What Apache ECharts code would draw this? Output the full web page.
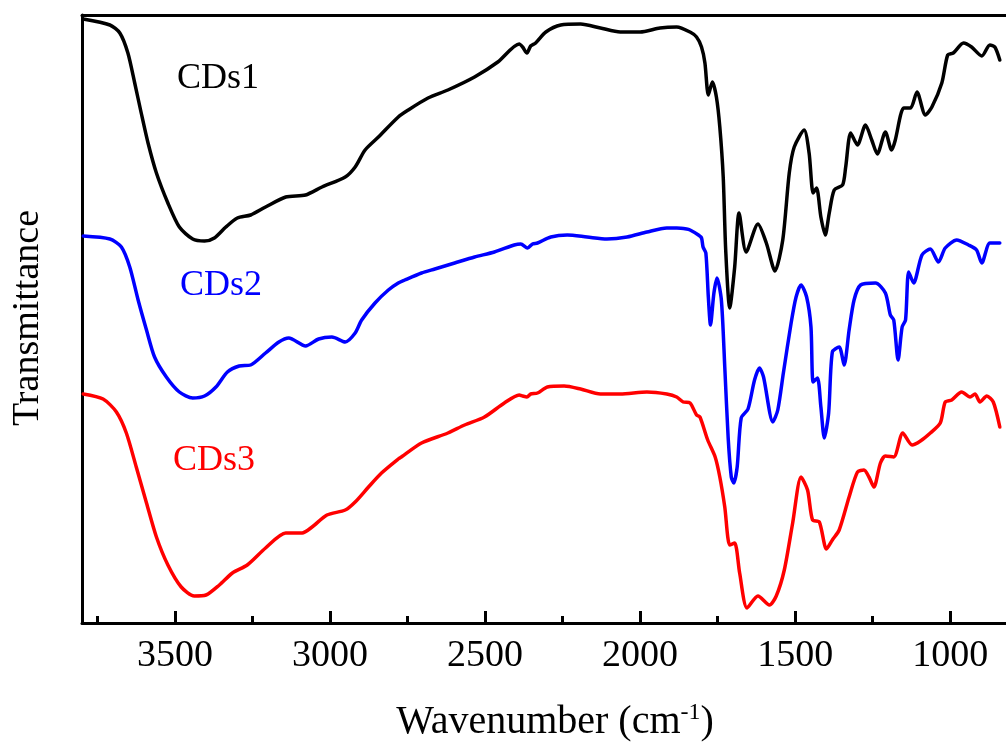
<!DOCTYPE html>
<html>
<head>
<meta charset="utf-8">
<script src="https://cdn.jsdelivr.net/npm/echarts@6/dist/echarts.min.js"></script>
<style>
html,body{margin:0;padding:0;background:#fff;}
#c{width:1006px;height:742px;}
</style>
</head>
<body>
<div id="c"></div>
<script>
// Wavenumber (cm-1) and transmittance (arbitrary units, offset curves)
const seriesNames = ['CDs1', 'CDs2', 'CDs3'];
const seriesColors = ['#000000', '#0000ff', '#ff0000'];

const cds1 = [
  [3796,60.4],[3710,59.8],[3678,59.0],[3652,57.0],[3630,54.0],[3609,51.0],[3587,48.0],[3560,45.0],
  [3523,42.0],[3486,39.6],[3443,38.4],[3405,38.2],[3373,38.5],[3336,39.6],[3299,40.5],[3256,40.8],
  [3208,41.6],[3143,42.6],[3079,42.8],[3026,43.6],[2951,44.6],[2919,45.6],[2887,47.3],[2844,48.6],
  [2780,50.6],[2748,51.3],[2684,52.5],[2620,53.3],[2534,54.6],[2459,56.1],[2390,57.9],[2379,57.6],
  [2365,57.0],[2353,57.7],[2337,58.0],[2304,59.1],[2256,59.8],[2192,59.9],[2128,59.5],[2064,59.1],
  [2000,59.1],[1936,59.5],[1882,59.6],[1839,59.1],[1818,58.6],[1802,57.6],[1791,56.0],[1780,52.8],
  [1767,54.1],[1754,52.6],[1743,49.6],[1732,44.6],[1724,37.3],[1711,31.5],[1695,35.6],[1681,41.0],
  [1658,37.1],[1620,39.9],[1593,38.0],[1565,35.2],[1540,38.3],[1519,45.0],[1503,47.6],[1471,49.3],
  [1455,47.0],[1442,43.0],[1431,43.5],[1417,40.6],[1403,38.8],[1390,41.0],[1374,43.3],[1347,43.8],
  [1337,45.6],[1321,49.0],[1299,47.8],[1273,49.8],[1253,48.3],[1235,46.9],[1209,49.1],[1189,47.3],
  [1177,48.3],[1160,50.8],[1150,51.5],[1128,51.5],[1107,53.1],[1080,50.8],[1059,51.6],[1027,54.0],
  [1008,56.8],[990,57.0],[957,58.0],[931,57.6],[898,56.7],[872,57.8],[856,57.6],[840,56.3]
];

const cds2 = [
  [3796,38.7],[3710,38.4],[3673,37.6],[3646,35.6],[3619,32.3],[3592,29.3],[3566,26.6],[3528,24.6],
  [3486,23.1],[3443,22.5],[3405,22.7],[3368,23.6],[3331,25.1],[3293,25.7],[3256,25.8],[3208,27.0],
  [3165,28.1],[3133,28.5],[3079,27.7],[3037,28.4],[2994,28.6],[2951,28.1],[2919,29.0],[2898,30.3],
  [2855,32.0],[2812,33.3],[2780,34.0],[2759,34.3],[2705,35.0],[2662,35.4],[2598,36.0],[2534,36.6],
  [2470,37.1],[2406,37.8],[2385,37.9],[2363,37.5],[2347,37.9],[2331,38.0],[2288,38.6],[2235,38.8],
  [2171,38.6],[2107,38.4],[2042,38.6],[1978,39.1],[1914,39.5],[1882,39.5],[1850,39.4],[1839,39.3],
  [1812,38.8],[1802,38.5],[1797,37.6],[1788,37.0],[1780,32.6],[1773,29.8],[1762,33.0],[1752,34.5],
  [1738,32.3],[1727,25.6],[1716,18.5],[1706,14.6],[1698,14.0],[1687,15.6],[1674,20.5],[1652,21.4],
  [1631,24.3],[1615,25.5],[1602,24.6],[1572,20.1],[1556,21.3],[1538,25.0],[1513,30.0],[1497,32.6],
  [1481,33.8],[1463,32.6],[1449,29.6],[1442,24.1],[1428,24.5],[1417,21.6],[1406,18.5],[1392,21.0],
  [1380,27.1],[1358,27.6],[1342,25.8],[1326,29.3],[1310,32.3],[1289,33.8],[1241,34.0],[1209,33.0],
  [1193,30.8],[1182,30.3],[1168,26.3],[1155,29.6],[1144,30.3],[1134,35.1],[1118,34.0],[1091,36.8],
  [1064,37.4],[1038,36.1],[1016,37.5],[979,38.3],[941,37.8],[915,37.3],[898,36.0],[872,38.0],[840,38.0]
];

const cds3 = [
  [3796,22.9],[3732,22.4],[3689,21.1],[3657,19.0],[3625,15.6],[3592,12.0],[3560,8.6],[3523,5.8],
  [3480,3.6],[3438,2.7],[3400,2.8],[3357,3.8],[3315,5.0],[3267,5.8],[3208,7.5],[3143,9.0],
  [3090,9.0],[3058,9.6],[3010,10.8],[2951,11.3],[2919,12.1],[2876,13.6],[2834,15.0],[2780,16.4],
  [2770,16.6],[2705,18.0],[2620,19.0],[2566,19.8],[2502,20.6],[2438,22.0],[2390,22.8],[2379,22.7],
  [2365,22.6],[2353,22.9],[2331,23.0],[2299,23.6],[2245,23.7],[2192,23.4],[2128,22.9],[2064,22.9],
  [1978,23.1],[1914,22.9],[1882,22.6],[1861,22.1],[1839,22.0],[1818,20.8],[1807,20.6],[1782,18.3],
  [1758,16.6],[1743,14.6],[1727,11.6],[1711,7.8],[1695,8.0],[1679,5.0],[1655,1.5],[1620,2.7],
  [1583,1.8],[1561,2.7],[1535,5.3],[1508,10.0],[1481,14.6],[1460,13.3],[1444,10.3],[1422,10.1],
  [1399,7.4],[1380,8.3],[1358,9.3],[1326,12.6],[1299,15.1],[1278,15.3],[1262,14.6],[1246,13.6],
  [1225,16.0],[1209,16.7],[1182,16.6],[1153,19.0],[1123,17.8],[1096,18.2],[1064,19.0],[1032,20.0],
  [1016,22.1],[995,22.3],[963,23.1],[936,22.6],[920,22.9],[904,22.1],[882,22.7],[861,22.1],[840,19.6]
];

const majorTicks = [1000, 1500, 2000, 2500, 3000, 3500];
const minorTicks = [1250, 1750, 2250, 2750, 3250, 3750];
const xMin = 820, xMax = 3800;
const yMin = 0, yMax = 60.8;

const allData = [cds1, cds2, cds3];
const labelPos = [[177, 79], [180, 286], [173, 461]];

const FONT = '"Liberation Serif", "Times New Roman", serif';

const chart = echarts.init(document.getElementById('c'), null, {renderer: 'canvas'});

const graphics = seriesNames.map((n, i) => ({
  type: 'text',
  x: labelPos[i][0], y: labelPos[i][1],
  style: { text: n, fill: seriesColors[i], font: '36px ' + FONT, align: 'left', verticalAlign: 'middle' }
}));
graphics.push({
  type: 'text', x: 28, y: 318, rotation: Math.PI / 2,
  style: { text: 'Transmittance', fill: '#000', font: '38px ' + FONT, align: 'center', verticalAlign: 'middle' }
});
graphics.push({
  type: 'text', x: 555, y: 722,
  style: {
    text: '{a|Wavenumber (cm}{s|-1}{a|)}',
    align: 'center', verticalAlign: 'middle',
    rich: {
      a: { font: '40px ' + FONT, fill: '#000' },
      s: { font: '24px ' + FONT, fill: '#000', verticalAlign: 'top', padding: [0, 0, 18, 0] }
    }
  }
});

chart.setOption({
  animation: false,
  backgroundColor: '#fff',
  grid: { left: 82, right: -5, top: 15, bottom: 119, containLabel: false },
  xAxis: [
    {
      type: 'value', position: 'bottom', inverse: true, min: xMin, max: xMax,
      axisLine: { show: true, lineStyle: { color: '#000', width: 3 } },
      axisTick: { show: true, inside: true, length: 12, lineStyle: { color: '#000', width: 3 }, customValues: majorTicks },
      axisLabel: { show: true, customValues: majorTicks, margin: 14, color: '#000', fontFamily: FONT, fontSize: 38,
                   formatter: v => String(v) },
      splitLine: { show: false }
    },
    {
      type: 'value', position: 'bottom', inverse: true, min: xMin, max: xMax,
      axisLine: { show: false },
      axisTick: { show: true, inside: true, length: 7, lineStyle: { color: '#000', width: 3 }, customValues: minorTicks },
      axisLabel: { show: false },
      splitLine: { show: false }
    },
    {
      type: 'value', position: 'top', inverse: true, min: xMin, max: xMax,
      axisLine: { show: true, lineStyle: { color: '#000', width: 3 } },
      axisTick: { show: false }, axisLabel: { show: false }, splitLine: { show: false }
    }
  ],
  yAxis: {
    type: 'value', min: yMin, max: yMax,
    axisLine: { show: true, lineStyle: { color: '#000', width: 3 } },
    axisTick: { show: false }, axisLabel: { show: false }, splitLine: { show: false }
  },
  series: seriesNames.map((n, i) => ({
    name: n, type: 'line', data: allData[i], xAxisIndex: 0,
    showSymbol: false, symbol: 'none', smooth: 0.25,
    lineStyle: { color: seriesColors[i], width: 3.5, join: 'round', cap: 'round' },
    itemStyle: { color: seriesColors[i] }
  })),
  graphic: graphics
});
</script>
</body>
</html>
